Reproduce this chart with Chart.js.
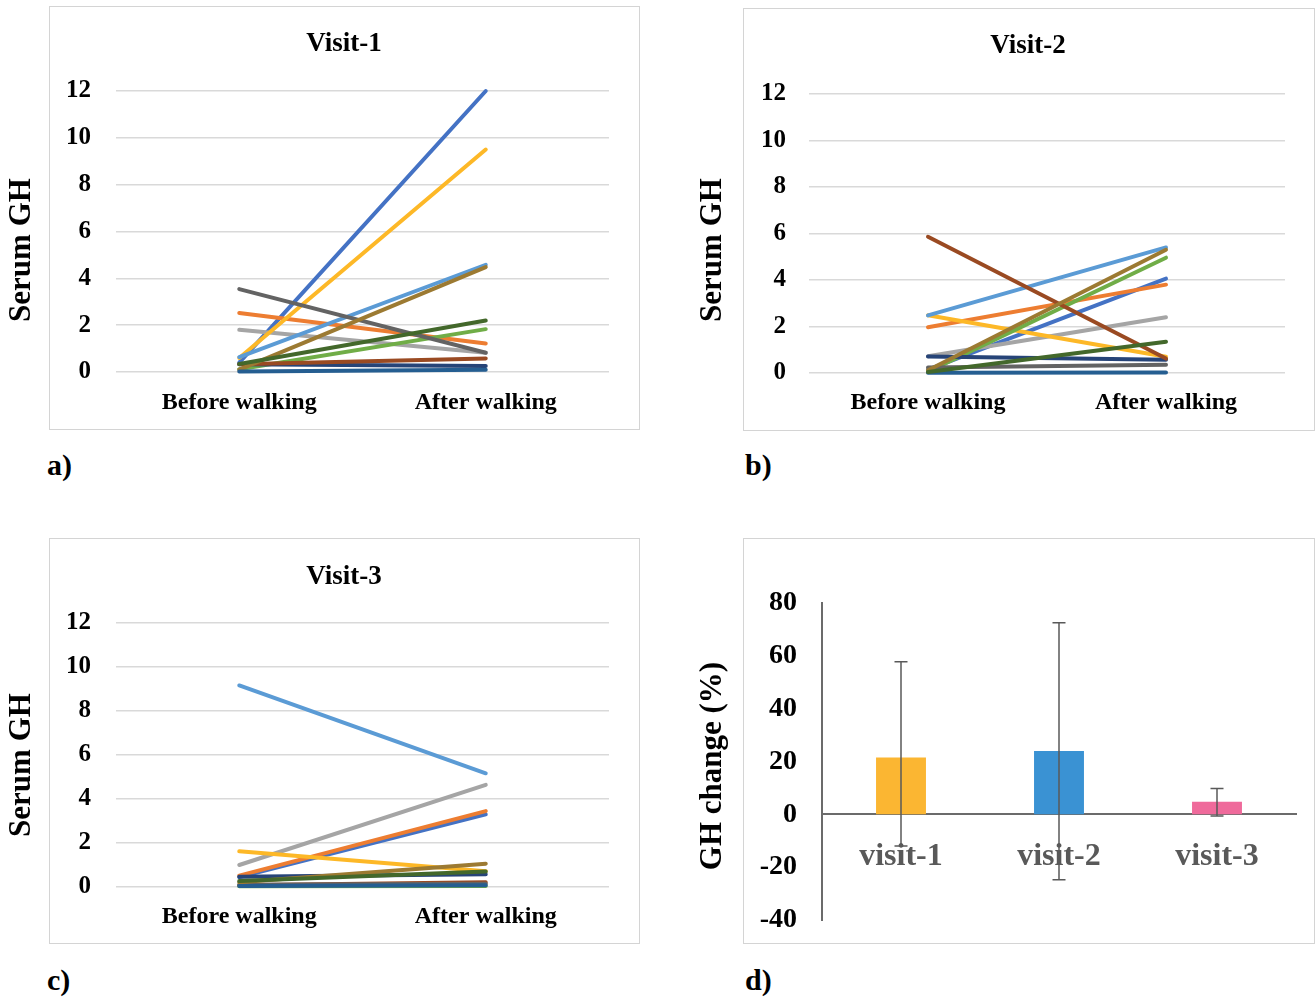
<!DOCTYPE html>
<html>
<head>
<meta charset="utf-8">
<title>Serum GH before and after walking</title>
<script src="https://cdn.jsdelivr.net/npm/chart.js@4.4.1/dist/chart.umd.min.js"></script>
<style>
  body { margin: 0; background: #fff; width: 1315px; height: 998px; position: relative; overflow: hidden;
         font-family: 'Liberation Serif', 'Times New Roman', serif; }
  .box { position: absolute; border: 1.5px solid #d4d4d4; box-sizing: border-box; }
  canvas { position: absolute; }
  .tag { position: absolute; font-weight: bold; font-size: 30px; line-height: 30px; color: #000; }
</style>
</head>
<body>
<div class="box" style="left:49px; top:6px; width:591px; height:424px;"></div>
<div class="box" style="left:743px; top:8px; width:572px; height:423px;"></div>
<div class="box" style="left:49px; top:538px; width:591px; height:406px;"></div>
<div class="box" style="left:743px; top:538px; width:572px; height:406px;"></div>

<canvas id="visit1" width="640" height="432" style="left:0; top:0;"></canvas>
<canvas id="visit2" width="625" height="432" style="left:690px; top:0;"></canvas>
<canvas id="visit3" width="640" height="413" style="left:0; top:532px;"></canvas>
<canvas id="change" width="625" height="413" style="left:690px; top:532px;"></canvas>

<div class="tag" style="left:47px; top:450px;">a)</div>
<div class="tag" style="left:745px; top:450px;">b)</div>
<div class="tag" style="left:47px; top:965px;">c)</div>
<div class="tag" style="left:745px; top:965px;">d)</div>

<script>
// === Data ===
const stages = ['Before walking', 'After walking'];
const serumTicks = [0, 2, 4, 6, 8, 10, 12];

const visit1Before = [0.4, 2.52, 1.8, 0.6, 0.64, 0.12, 0.33, 0.33, 3.54, 0.1, 0.02, 0.34];
const visit1After  = [12.0, 1.22, 0.82, 9.5, 4.58, 1.83, 0.26, 0.58, 0.82, 4.48, 0.1, 2.2];

const visit2Before = [0.15, 1.97, 0.72, 2.48, 2.48, 0.06, 0.71, 5.86, 0.24, 0.12, 0.01, 0.04];
const visit2After  = [4.06, 3.8, 2.4, 0.7, 5.4, 4.96, 0.57, 0.62, 0.35, 5.3, 0.02, 1.34];

const visit3Before = [0.45, 0.52, 1.0, 1.62, 9.16, 0.03, 0.47, 0.08, 0.1, 0.22, 0.05, 0.27];
const visit3After  = [3.3, 3.45, 4.64, 0.72, 5.17, 0.05, 0.58, 0.22, 0.15, 1.06, 0.08, 0.7];

const visits = ['visit-1', 'visit-2', 'visit-3'];
const ghChange = [21.5, 24, 4.8];
const ghErrLow = [-12, -24.8, -0.6];
const ghErrHigh = [57.8, 72.5, 9.8];
const changeTicks = [-40, -20, 0, 20, 40, 60, 80];

// Office-like palette, one per subject
const lineColors = ['#4472C4', '#ED7D31', '#A5A5A5', '#FDB827', '#5B9BD5', '#70AD47',
                    '#264478', '#9A4A22', '#636363', '#9C7A32', '#255E91', '#43682B'];
const barColors = ['#FBB632', '#3A92D3', '#EF6A9B'];

const serif = "'Liberation Serif', 'Times New Roman', serif";
const bold = size => ({ family: serif, size: size, weight: 'bold', lineHeight: 1.2 });

// Panel title + rotated y title, placed where Excel put them
const panelText = {
  id: 'panelText',
  afterDraw(chart, args, o) {
    const ctx = chart.ctx;
    ctx.save();
    ctx.fillStyle = '#000';
    ctx.textAlign = 'center';
    ctx.textBaseline = 'middle';
    if (o.title) {
      ctx.font = 'bold 27px ' + serif;
      ctx.fillText(o.title, o.titleX, o.titleY);
    }
    ctx.translate(o.yTitleX, o.yTitleY);
    ctx.rotate(-Math.PI / 2);
    ctx.font = 'bold ' + o.yTitleSize + 'px ' + serif;
    ctx.fillText(o.yTitle, 0, 0);
    ctx.restore();
  }
};

// === Line panels (a, b, c) ===
function makeLinePanel(id, titleText, before, after, L) {
  const datasets = before.map((b, i) => ({
    label: 'Subject ' + (i + 1),
    data: [b, after[i]],
    borderColor: lineColors[i],
    borderWidth: 4,
    borderCapStyle: 'round',
    pointRadius: 0,
    tension: 0,
    clip: false,
    order: before.length - i   // later series on top, like Excel
  }));

  new Chart(document.getElementById(id), {
    type: 'line',
    data: { labels: stages, datasets },
    options: {
      responsive: false,
      animation: false,
      layout: { padding: { left: 0, right: L.w - L.right, top: L.top, bottom: 0 } },
      plugins: {
        legend: { display: false },
        tooltip: { enabled: false },
        panelText: { title: titleText, titleX: L.titleX, titleY: L.titleY,
                     yTitle: 'Serum GH', yTitleSize: 31, yTitleX: L.yTitleX, yTitleY: L.yTitleY }
      },
      scales: {
        x: {
          offset: true,
          grid: { display: false },
          border: { display: false },
          ticks: { color: '#000', font: bold(24), padding: L.labelY - L.bottom - 20.4, maxRotation: 0, autoSkip: false },
          afterFit: s => { s.height = L.h - L.bottom; }
        },
        y: {
          min: 0, max: 12,
          afterBuildTicks: s => { s.ticks = serumTicks.map(v => ({ value: v })); },
          grid: { color: '#d9d9d9', lineWidth: 1.5, drawTicks: false },
          border: { display: false },
          ticks: { color: '#000', font: bold(25), padding: L.left - L.tickRight },
          afterFit: s => { s.width = L.left; s.paddingTop = 0; s.paddingBottom = 0; }
        }
      }
    },
    plugins: [panelText]
  });
}

makeLinePanel('visit1', 'Visit-1', visit1Before, visit1After,
  { w: 640, h: 432, left: 116, right: 609, top: 91, bottom: 372, titleX: 344, titleY: 44,
    yTitleX: 22, yTitleY: 250, labelY: 401, tickRight: 91 });
makeLinePanel('visit2', 'Visit-2', visit2Before, visit2After,
  { w: 625, h: 432, left: 119, right: 595, top: 94, bottom: 373, titleX: 338, titleY: 46,
    yTitleX: 23, yTitleY: 250, labelY: 401, tickRight: 96 });
makeLinePanel('visit3', 'Visit-3', visit3Before, visit3After,
  { w: 640, h: 413, left: 116, right: 609, top: 91, bottom: 355, titleX: 344, titleY: 45,
    yTitleX: 22, yTitleY: 233, labelY: 383, tickRight: 91 });

// === Bar panel (d) with error bars ===
const errorBars = {
  id: 'errorBars',
  afterDatasetsDraw(chart) {
    const meta = chart.getDatasetMeta(0);
    const y = chart.scales.y;
    const ctx = chart.ctx;
    ctx.save();
    ctx.strokeStyle = '#595959';
    ctx.lineWidth = 1.5;
    meta.data.forEach((bar, i) => {
      const hi = y.getPixelForValue(ghErrHigh[i]);
      const lo = y.getPixelForValue(ghErrLow[i]);
      ctx.beginPath();
      ctx.moveTo(bar.x, hi); ctx.lineTo(bar.x, lo);
      ctx.moveTo(bar.x - 6.5, hi); ctx.lineTo(bar.x + 6.5, hi);
      ctx.moveTo(bar.x - 6.5, lo); ctx.lineTo(bar.x + 6.5, lo);
      ctx.stroke();
    });
    ctx.restore();
  }
};

new Chart(document.getElementById('change'), {
  type: 'bar',
  data: {
    labels: visits,
    datasets: [{
      label: 'GH change (%)',
      data: ghChange,
      backgroundColor: barColors,
      barPercentage: 0.316,
      categoryPercentage: 1
    }]
  },
  options: {
    responsive: false,
    animation: false,
    layout: { padding: { left: 0, right: 19, top: 71, bottom: 25 } },
    plugins: {
      legend: { display: false },
      tooltip: { enabled: false },
      panelText: { yTitle: 'GH change (%)', yTitleSize: 31, yTitleX: 23, yTitleY: 234 }
    },
    scales: {
      x: {
        position: { y: 0 },
        grid: { display: false },
        border: { display: true, color: '#6b6b6b', width: 2 },
        ticks: { color: '#595959', font: bold(32), padding: 15, z: 1, maxRotation: 0 }
      },
      y: {
        min: -40, max: 80,
        afterBuildTicks: s => { s.ticks = changeTicks.map(v => ({ value: v })); },
        grid: { display: false, drawTicks: false },
        border: { display: true, color: '#6b6b6b', width: 2 },
        ticks: { color: '#000', font: bold(28), padding: 25 },
        afterFit: s => { s.width = 132; s.paddingTop = 0; s.paddingBottom = 0; }
      }
    }
  },
  plugins: [errorBars, panelText]
});
</script>
</body>
</html>
